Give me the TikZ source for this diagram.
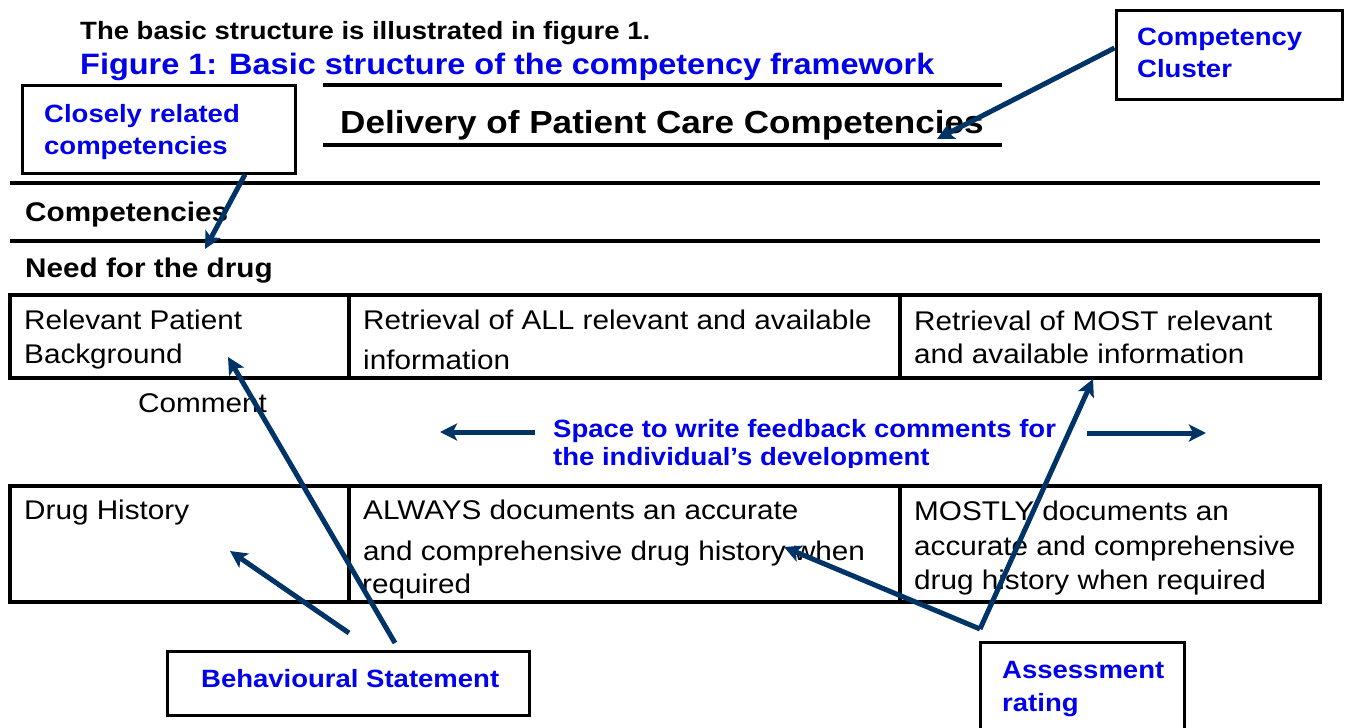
\documentclass[tikz,border=0pt]{standalone}
\usepackage{fontspec}
\setmainfont[FakeStretch=1.1]{Liberation Sans}
\usetikzlibrary{arrows.meta}
\definecolor{labelblue}{RGB}{0,0,235}
\definecolor{arrownavy}{RGB}{0,51,102}
\tikzset{
  body/.style={anchor=base west, inner sep=0pt, font=\fontsize{27}{32}\selectfont},
  head/.style={anchor=base west, inner sep=0pt, font=\bfseries\fontsize{27}{32}\selectfont},
  lbl/.style={anchor=base west, inner sep=0pt, text=labelblue, font=\bfseries\fontsize{25}{30}\selectfont},
  callout/.style={draw=black, line width=3pt, inner sep=0pt},
  cell/.style={draw=black, line width=3.5pt, inner sep=0pt},
  rule/.style={line width=3.5pt},
  pointer/.style={draw=arrownavy, line width=5pt, -{Stealth[length=17pt,width=17pt,inset=4pt]}},
}
\begin{document}
\begin{tikzpicture}[x=1pt,y=-1pt]
\useasboundingbox (0,0) rectangle (1349,728);
\begin{scope}
\clip (0,0) rectangle (1349,728);

% heading text
\node[head, font=\bfseries\fontsize{25}{30}\selectfont] (intro) at (80,39) {The basic structure is illustrated in figure 1.};
\node[lbl, font=\bfseries\fontsize{29.5}{34}\selectfont] (figtitle) at (80,74) {Figure 1: Basic structure of the competency framework};

% cluster title between two rules
\draw[rule] (323,85) -- (1002,85);
\node[head, font=\bfseries\fontsize{31.9}{36}\selectfont] (cluster) at (340,133) {Delivery of Patient Care Competencies};
\draw[rule] (323,145) -- (1002,145);

% section rules
\draw[rule] (10,183) -- (1320,183);
\node[head] (comps) at (25,221) {Competencies};
\draw[rule] (10,241) -- (1320,241);
\node[head] (need) at (25,277) {Need for the drug};

% callout boxes
\node[callout, minimum width=273pt, minimum height=88pt] (cr) at (158.5,129) {};
\node[lbl] (crA) at (44,122) {Closely related};
\node[lbl] (crB) at (44,154) {competencies};

\node[callout, minimum width=226pt, minimum height=89pt] (cl) at (1229,54.5) {};
\node[lbl] (clA) at (1137,45) {Competency};
\node[lbl] (clB) at (1137,77) {Cluster};

\node[callout, minimum width=362pt, minimum height=64pt] (bs) at (348,683) {};
\node[lbl] (bsT) at (201,687) {Behavioural Statement};

\node[callout, minimum width=204pt, minimum height=100pt] (ar) at (1082,692) {};
\node[lbl] (arA) at (1002,678) {Assessment};
\node[lbl] (arB) at (1002,711) {rating};

% first row of the table
\node[cell, minimum width=339pt, minimum height=83pt] (r1c1) at (179.5,336.5) {};
\node[cell, minimum width=551pt, minimum height=83pt] (r1c2) at (624.5,336.5) {};
\node[cell, minimum width=420pt, minimum height=83pt] (r1c3) at (1110,336.5) {};
\node[body] (t11a) at (24,329) {Relevant Patient};
\node[body] (t11b) at (24,363) {Background};
\node[body] (t12a) at (363,329) {Retrieval of ALL relevant and available};
\node[body] (t12b) at (363,369) {information};
\node[body] (t13a) at (914,330) {Retrieval of MOST relevant};
\node[body] (t13b) at (914,363) {and available information};

% feedback space
\node[body] (comment) at (138,412) {Comment};
\node[lbl] (spA) at (553,437) {Space to write feedback comments for};
\begin{scope}
\clip (540,440) rectangle (1070,467);
\node[lbl] (spB) at (553,465) {the individual’s development};
\end{scope}

% second row of the table
\node[cell, minimum width=339pt, minimum height=116pt] (r2c1) at (179.5,544) {};
\node[cell, minimum width=551pt, minimum height=116pt] (r2c2) at (624.5,544) {};
\node[cell, minimum width=420pt, minimum height=116pt] (r2c3) at (1110,544) {};
\node[body] (t21a) at (24,519) {Drug History};
\node[body] (t22a) at (363,519) {ALWAYS documents an accurate};
\node[body] (t22b) at (363,560) {and comprehensive drug history when};
\node[body] (t22c) at (362,593) {required};
\node[body] (t23a) at (914,520) {MOSTLY documents an};
\node[body] (t23b) at (914,555) {accurate and comprehensive};
\node[body] (t23c) at (914,589) {drug history when required};

% pointer end points
\coordinate (clTip) at (937,139);
\coordinate (crTip) at (205,249);
\coordinate (bsFromA) at (349,633);
\coordinate (bsFromB) at (395,643);
\coordinate (bsTipA) at (230,551);
\coordinate (bsTipB) at (228,357);
\coordinate (arV) at (980,629);
\coordinate (arTipA) at (784,547);
\coordinate (arTipB) at (1093,379);
\coordinate (spLeftFrom) at (535,432);
\coordinate (spLeftTip) at (440,432);
\coordinate (spRightFrom) at (1087,433);
\coordinate (spRightTip) at (1206,433);

% pointers
\draw[pointer] ([yshift=6.5pt]cl.west) -- (clTip);
\draw[pointer] ([xshift=86.5pt]cr.south) -- (crTip);
\draw[pointer] (bsFromA) -- (bsTipA);
\draw[pointer] (bsFromB) -- (bsTipB);
\draw[pointer] (arV) -- (arTipA);
\draw[pointer] (arV) -- (arTipB);
\draw[pointer] (spLeftFrom) -- (spLeftTip);
\draw[pointer] (spRightFrom) -- (spRightTip);
\end{scope}
\end{tikzpicture}
\end{document}
